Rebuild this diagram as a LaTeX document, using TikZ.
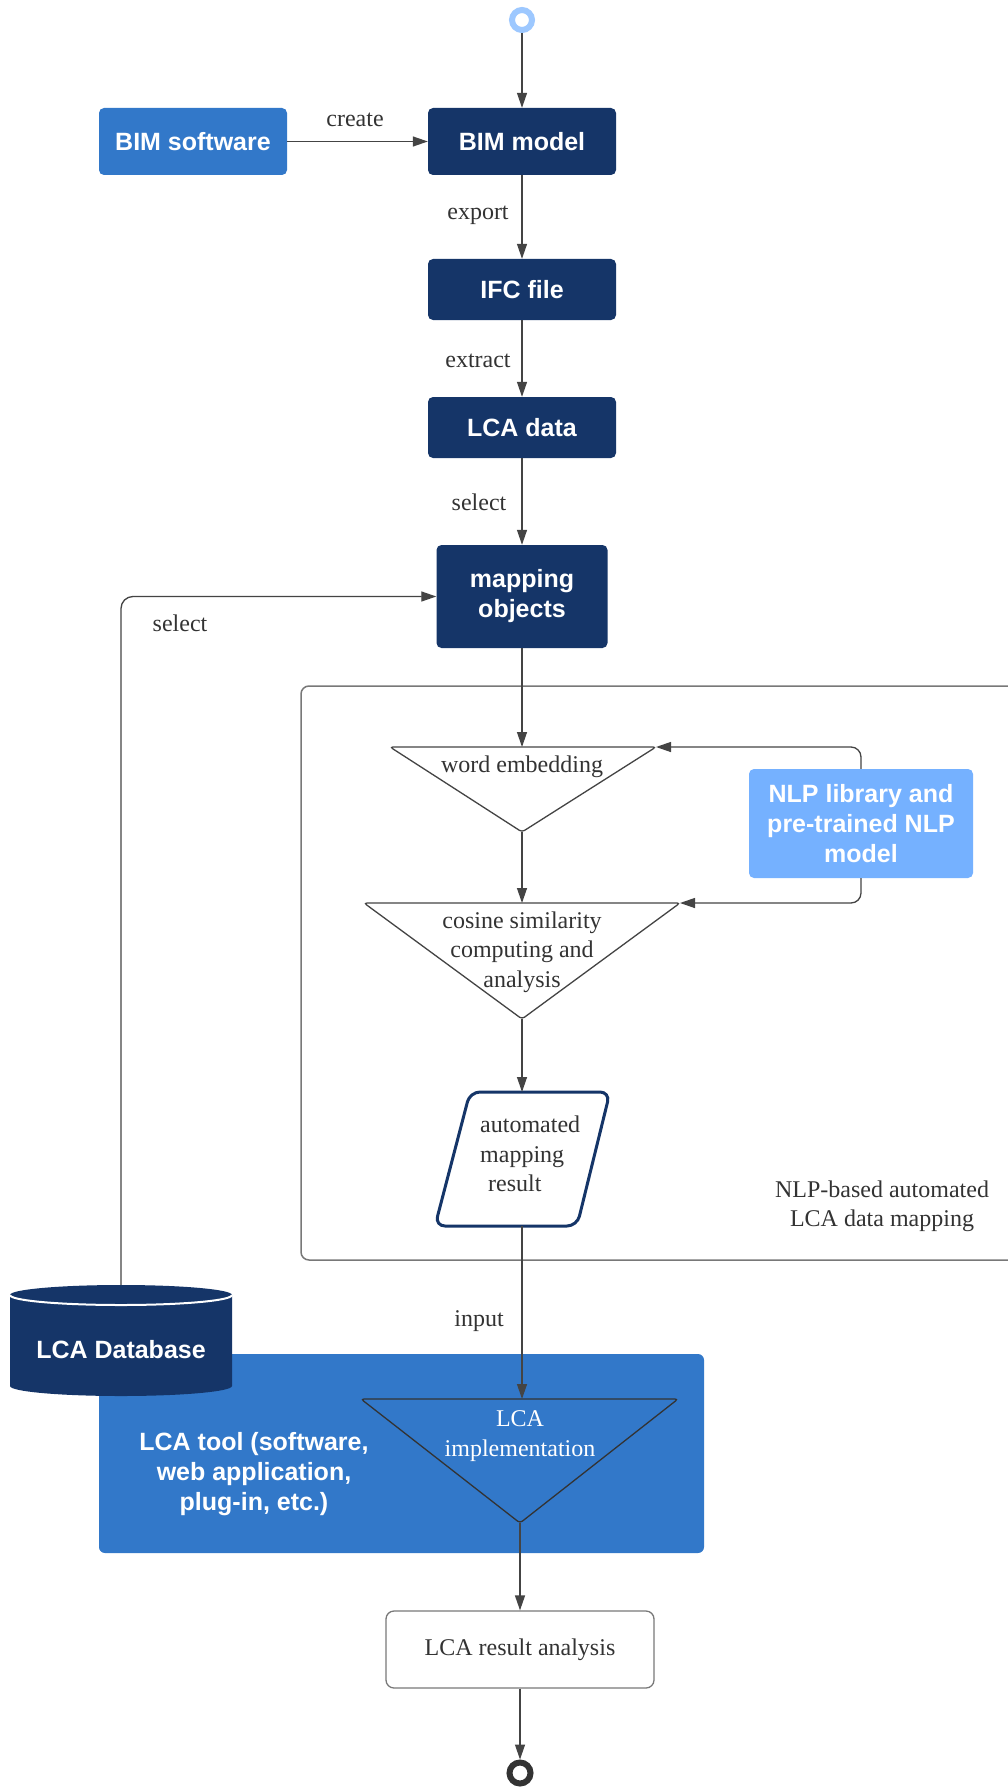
\documentclass[tikz,border=0pt]{standalone}
\usepackage{fontspec}
\setmainfont{Liberation Serif}
\setsansfont{Liberation Sans}
\usetikzlibrary{arrows.meta}

\definecolor{navy}{RGB}{21,53,104}
\definecolor{midblue}{RGB}{50,120,201}
\definecolor{lightblue}{RGB}{117,177,255}
\definecolor{startblue}{RGB}{157,200,255}
\definecolor{linegray}{RGB}{68,68,68}
\definecolor{framegray}{RGB}{120,120,120}
\definecolor{labelgray}{RGB}{51,51,51}

\newcommand\boxfont{\sffamily\bfseries\fontsize{25}{30}\selectfont}
\newcommand\labfont{\rmfamily\fontsize{24}{29.5}\selectfont}

\begin{document}
\begin{tikzpicture}[x=1pt,y=-1pt,
  conn/.style={draw=linegray, line width=1.3pt, -{Triangle[length=15pt,width=10pt]}},
  darkbox/.style={rectangle, rounded corners=5pt, fill=navy, text=white, font=\boxfont, align=center, inner sep=0pt},
  midbox/.style={rectangle, rounded corners=5pt, fill=midblue, text=white, font=\boxfont, align=center, inner sep=0pt},
  lightbox/.style={rectangle, rounded corners=5pt, fill=lightblue, text=white, font=\boxfont, align=center, inner sep=0pt},
  whitebox/.style={rectangle, rounded corners=8pt, draw=framegray, line width=1.3pt, fill=white, text=labelgray, font=\labfont, inner sep=0pt},
  tri/.style={draw=linegray, line width=1.3pt, rounded corners=3pt},
  lbl/.style={text=labelgray, font=\labfont, inner sep=0pt, align=center},
  starttoken/.style={circle, draw=startblue, line width=6pt, fill=white, minimum size=20pt, inner sep=0pt},
  endtoken/.style={circle, draw=labelgray, line width=6pt, fill=white, minimum size=21pt, inner sep=0pt}]

\path[use as bounding box, fill=white] (0,0) rectangle (1008,1787);

% frame of the NLP-based mapping stage
\draw[framegray, line width=1.5pt, rounded corners=8pt] (301,686) rectangle (1040,1260);
\node[lbl] (stage) at (882,1206) {NLP-based automated\\LCA data mapping};

% upper chain of nodes
\node[starttoken] (start) at (522,20) {};
\node[midbox, minimum width=188pt, minimum height=67pt] (bimsw) at (193,141.5) {BIM software};
\node[darkbox, minimum width=188pt, minimum height=67pt] (bimmodel) at (522,141.5) {BIM model};
\node[darkbox, minimum width=188pt, minimum height=61pt] (ifc) at (522,289.5) {IFC file};
\node[darkbox, minimum width=188pt, minimum height=61pt] (lcadata) at (522,427.5) {LCA data};
\node[darkbox, minimum width=171pt, minimum height=103pt] (mapping) at (522,596.5) {mapping\\objects};

% NLP resources
\node[lightbox, minimum width=224pt, minimum height=109pt] (nlp) at (861,823.5) {NLP library and\\pre-trained NLP\\model};

% word embedding
\coordinate (we-top) at (522,747);
\coordinate (we-l) at (390,747);
\coordinate (we-r) at (656,747);
\coordinate (we-tip) at (522,832);
\draw[tri, fill=white] (we-top) -- (we-r) -- (we-tip) -- (we-l) -- cycle;
\node[lbl, anchor=base] (we) at (522,772) {word embedding};

% cosine similarity
\coordinate (cos-top) at (522,903);
\coordinate (cos-l) at (364,903);
\coordinate (cos-r) at (680,903);
\coordinate (cos-tip) at (522,1019);
\draw[tri, fill=white] (cos-top) -- (cos-r) -- (cos-tip) -- (cos-l) -- cycle;
\node[lbl] (cos) at (522,952) {cosine similarity\\computing and\\analysis};

% mapping result
\coordinate (para-top) at (522,1092);
\coordinate (para-bot) at (522,1226);
\draw[navy, line width=3pt, rounded corners=10pt, fill=white]
  (para-top) -- (610,1092) -- (577,1226) -- (435,1226) -- (470,1092) -- cycle;
\node[lbl, align=left, anchor=west] (res) at (480,1154) {automated\\mapping\\\hspace*{8pt}result};

% LCA tool
\node[midbox, rounded corners=6pt, minimum width=605pt, minimum height=199pt] (tool) at (401.5,1453.5) {};
\node[text=white, font=\boxfont, align=center, inner sep=0pt] (tooltext) at (254,1474) {LCA tool (software,\\web application,\\plug-in, etc.)};

\coordinate (impl-top) at (520,1399);
\coordinate (impl-l) at (361,1399);
\coordinate (impl-r) at (678,1399);
\coordinate (impl-tip) at (520,1523);
\draw[tri, draw=labelgray] (impl-top) -- (impl-r) -- (impl-tip) -- (impl-l) -- cycle;
\node[lbl, text=white] (impl) at (520,1436) {LCA\\implementation};

% LCA database
\fill[navy] (10,1295) -- (10,1386) arc[start angle=180, end angle=0, x radius=111, y radius=10]
  -- (232,1295) arc[start angle=0, end angle=-180, x radius=111, y radius=10] -- cycle;
\draw[white, line width=2pt] (10,1295) arc[start angle=180, end angle=0, x radius=111, y radius=10];
\coordinate (db-top) at (121,1285);
\node[text=white, font=\boxfont, inner sep=0pt] (db) at (121,1350) {LCA Database};

% result analysis and end
\node[whitebox, minimum width=268pt, minimum height=77pt] (result) at (520,1649.5) {LCA result analysis};
\node[endtoken] (end) at (520,1773) {};

% connectors
\draw[conn] (start) -- (bimmodel);
\draw[conn] (bimsw) -- (bimmodel);
\draw[conn] (bimmodel) -- (ifc);
\draw[conn] (ifc) -- (lcadata);
\draw[conn] (lcadata) -- (mapping);
\draw[conn] (mapping) -- (we-top);
\draw[conn, rounded corners=10pt] (nlp.north) |- (we-r);
\draw[conn, rounded corners=10pt] (nlp.south) |- (cos-r);
\draw[conn] (we-tip) -- (cos-top);
\draw[conn] (cos-tip) -- (para-top);
\draw[conn] (para-bot) -- (para-bot |- impl-top);
\draw[conn, rounded corners=12pt] (db-top) |- (mapping.west);
\draw[conn] (impl-tip) -- (result);
\draw[conn] (result) -- (end);

% connector labels
\node[lbl, anchor=base] (l-create) at (355,127) {create};
\node[lbl, anchor=base] (l-export) at (478,220) {export};
\node[lbl, anchor=base] (l-extract) at (478,367) {extract};
\node[lbl, anchor=base] (l-select) at (479,510) {select};
\node[lbl, anchor=base] (l-select2) at (180,631) {select};
\node[lbl, anchor=base] (l-input) at (479,1326) {input};

\end{tikzpicture}
\end{document}
